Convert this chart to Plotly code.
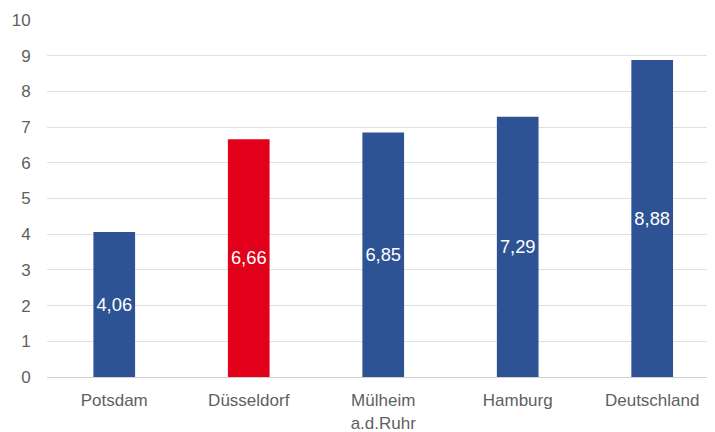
import plotly.graph_objects as go

categories = ["Potsdam", "Düsseldorf", "Mülheim<br>a.d.Ruhr", "Hamburg", "Deutschland"]
values = [4.06, 6.66, 6.85, 7.29, 8.88]
labels = ["4,06", "6,66", "6,85", "7,29", "8,88"]
colors = ["#2D5395", "#E2001A", "#2D5395", "#2D5395", "#2D5395"]
y_ticks = list(range(0, 11))

fig = go.Figure(go.Bar(
    x=list(range(len(categories))), y=values, text=labels,
    marker=dict(color=colors, line=dict(width=0)),
    width=0.31,
    textposition="inside", insidetextanchor="middle",
    textfont=dict(color="white", size=19, family="Liberation Sans, Arial, sans-serif"),
    textangle=0,
))

fig.update_layout(
    width=707, height=424,
    margin=dict(l=39, r=0, t=12, b=55),
    plot_bgcolor="white", paper_bgcolor="white",
    showlegend=False,
    font=dict(family="Liberation Sans, Arial, sans-serif", color="#5F5F5F", size=17),
)
fig.update_yaxes(
    range=[0, 10], tickvals=y_ticks, showgrid=True, gridcolor="#E0E0E0", gridwidth=1,
    zeroline=True, zerolinecolor="#D0D0D0", zerolinewidth=1,
    ticks="outside", ticklen=12, tickcolor="rgba(0,0,0,0)",
    tickfont=dict(size=17, color="#5F5F5F"),
)
fig.update_xaxes(
    range=[-0.5, 4.467],
    tickvals=list(range(len(categories))), ticktext=categories,
    showgrid=False, ticks="outside", ticklen=8, tickcolor="rgba(0,0,0,0)",
    tickfont=dict(size=17, color="#5F5F5F"),
    showline=False,
)

fig.write_html("out.html")
